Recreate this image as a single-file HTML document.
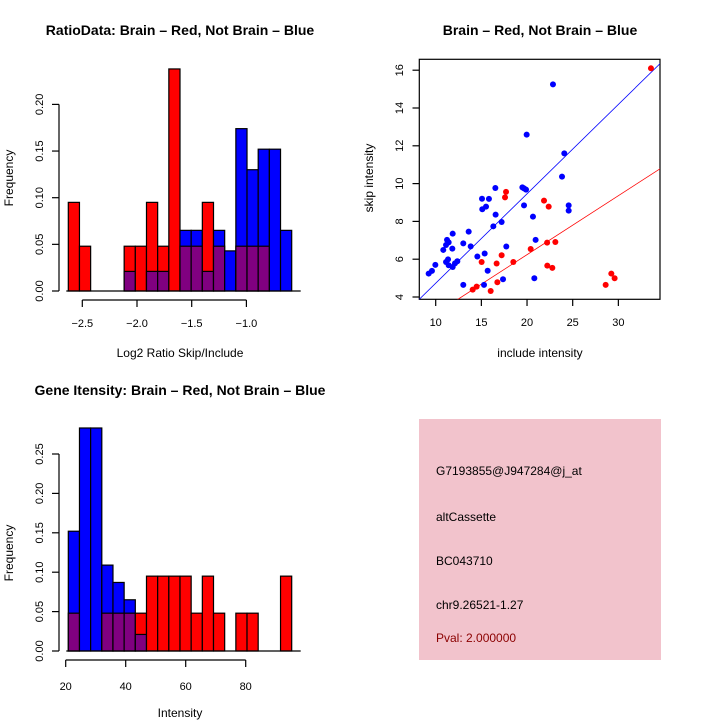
<!DOCTYPE html>
<html><head><meta charset="utf-8"><style>
body{margin:0;background:#fff}
svg{display:block;font-family:"Liberation Sans",sans-serif}
</style></head><body>
<svg id="s" width="720" height="720" xmlns="http://www.w3.org/2000/svg">
<rect x="0" y="0" width="720" height="720" fill="#fff"/>
<text x="180" y="35" font-size="14" font-weight="bold" text-anchor="middle">RatioData: Brain – Red, Not Brain – Blue</text>
<text x="540" y="35" font-size="14" font-weight="bold" text-anchor="middle">Brain – Red, Not Brain – Blue</text>
<text x="180" y="395" font-size="14" font-weight="bold" text-anchor="middle">Gene Itensity: Brain – Red, Not Brain – Blue</text>
<text x="180" y="357" font-size="12" text-anchor="middle">Log2 Ratio Skip/Include</text>
<text x="180" y="717" font-size="12" text-anchor="middle">Intensity</text>
<text transform="translate(13,178) rotate(-90)" font-size="12" text-anchor="middle">Frequency</text>
<text transform="translate(13,553) rotate(-90)" font-size="12" text-anchor="middle">Frequency</text>
<text x="540" y="357" font-size="12" text-anchor="middle">include intensity</text>
<text transform="translate(373,178) rotate(-90)" font-size="12" text-anchor="middle">skip intensity</text>
<g>
<rect x="419" y="419" width="242" height="241" fill="#f2c3cc"/>
<text x="436" y="475" font-size="12">G7193855@J947284@j_at</text>
<text x="436" y="521" font-size="12">altCassette</text>
<text x="436" y="565" font-size="12">BC043710</text>
<text x="436" y="609" font-size="12">chr9.26521-1.27</text>
<text x="436" y="642" font-size="12" fill="#8b0000">Pval: 2.000000</text>
</g>
<g id="h1"></g>
<g id="h2"></g>
<g id="sc"></g>
</svg>
<script>
const ratioRed=[0.095,0.048,0,0,0,0.048,0.048,0.095,0.048,0.238,0.048,0.048,0.095,0.048,0,0.048,0.048,0.048,0,0];
const ratioBlue=[0,0,0,0,0,0.021,0,0.021,0.021,0,0.065,0.065,0.021,0.065,0.043,0.174,0.130,0.152,0.152,0.065];
const ratioYTicks=["0.00","0.05","0.10","0.15","0.20"];
const ratioXTicks=["-2.5","-2.0","-1.5","-1.0"];
const intRed=[0.048,0,0,0.048,0.048,0.048,0.048,0.095,0.095,0.095,0.095,0.048,0.095,0.048,0,0.048,0.048,0,0,0.095];
const intBlue=[0.152,0.283,0.283,0.109,0.087,0.065,0.021,0,0,0,0,0,0,0,0,0,0,0,0,0];
const intYTicks=["0.00","0.05","0.10","0.15","0.20","0.25"];
const intXTicks=["20","40","60","80"];
const blueX=[22.84,19.96,24.08,23.83,16.53,19.49,19.67,19.89,15.07,15.83,15.51,15.1,19.67,24.56,24.56,16.56,20.65,17.22,16.31,11.86,13.61,11.24,11.42,11.13,10.83,11.82,13.02,13.83,17.73,20.94,14.56,15.36,9.96,11.35,11.13,11.42,11.86,12.37,12.11,9.59,9.23,15.69,17.37,20.8,13.02,15.29];
const blueY=[15.25,12.59,11.6,10.37,9.77,9.8,9.75,9.68,9.2,9.19,8.78,8.64,8.85,8.85,8.57,8.36,8.25,7.97,7.74,7.35,7.46,7.02,6.89,6.75,6.49,6.56,6.84,6.68,6.67,7.02,6.14,6.3,5.7,5.99,5.85,5.68,5.59,5.89,5.78,5.38,5.24,5.39,4.94,4.99,4.64,4.64];
const redX=[33.57,17.7,17.59,21.86,22.37,22.2,23.1,20.4,17.22,15.03,16.67,18.5,22.22,22.77,16.75,14.48,14.05,16.02,28.61,29.23,29.59];
const redY=[16.1,9.56,9.27,9.1,8.78,6.88,6.91,6.54,6.21,5.85,5.77,5.85,5.66,5.54,4.78,4.55,4.39,4.32,4.64,5.24,4.99];
const scXTicks=[10,15,20,25,30];
const scYTicks=[4,6,8,10,12,14,16];
const blueSlope=0.473, redSlope=0.312;

const NS="http://www.w3.org/2000/svg";
function mk(p,t,a){const e=document.createElementNS(NS,t);for(const k in a)e.setAttribute(k,a[k]);p.appendChild(e);return e;}

function hist(g,red,blue,x0,x1,y0,perUnit,yticks,xtickVals,xFn,axisY,labY,isInt){
  const n=red.length,w=(x1-x0)/n;
  const yv=v=>y0-v*perUnit;
  for(let i=0;i<n;i++){
    const r=red[i],b=blue[i],mx=Math.max(r,b),mn=Math.min(r,b);
    if(mx<=0)continue;
    const top=mk(g,'rect',{x:x0+i*w,y:yv(mx),width:w,height:mx*perUnit,fill:r>=b?'#ff0000':'#0000ff',stroke:'#000','stroke-width':1.2});
    
    
    if(mn>0){
      const p=mk(g,'rect',{x:x0+i*w,y:yv(mn),width:w,height:mn*perUnit,fill:'#800080',stroke:'#000','stroke-width':1.2});
      
      
    }
  }
  mk(g,'line',{x1:x0-2,x2:x1+9,y1:y0,y2:y0,stroke:'#000','stroke-width':1.2});
  const ymax=parseFloat(yticks[yticks.length-1]);
  mk(g,'line',{x1:59,x2:59,y1:y0,y2:yv(ymax),stroke:'#000','stroke-width':1.2});
  yticks.forEach(t=>{const y=yv(parseFloat(t));
    mk(g,'line',{x1:52,x2:59,y1:y,y2:y,stroke:'#000','stroke-width':1.2});
    const tx=mk(g,'text',{transform:`translate(43,${y}) rotate(-90)`,'font-size':11,'text-anchor':'middle'});tx.textContent=t;
    
    
  });
  const xs=xtickVals.map(v=>xFn(parseFloat(v)));
  mk(g,'line',{x1:xs[0],x2:xs[xs.length-1],y1:axisY,y2:axisY,stroke:'#000','stroke-width':1.2});
  xtickVals.forEach((t,i)=>{const x=xs[i];
    mk(g,'line',{x1:x,x2:x,y1:axisY,y2:axisY+7,stroke:'#000','stroke-width':1.2});
    const tx=mk(g,'text',{x:x,y:labY,'font-size':11,'text-anchor':'middle'});tx.textContent=t.replace('-','\u2212');
    
    
  });
}
hist(document.getElementById('h1'),ratioRed,ratioBlue,68.3,291.7,291,933,ratioYTicks,ratioXTicks,v=>82.3+(v+2.5)*109.4,300,327);
hist(document.getElementById('h2'),intRed,intBlue,68.3,291.7,651,788,intYTicks,intXTicks,v=>65.7+(v-20)*3,660,690);

// scatter
const sc=document.getElementById('sc');
const sx=v=>435.7+(v-10)*9.133, sy=v=>297-(v-4)*18.9;
mk(sc,'rect',{x:419.3,y:59.3,width:240.7,height:240,fill:'none',stroke:'#000','stroke-width':1.2});
const cp=mk(sc,'clipPath',{id:'cp'});mk(cp,'rect',{x:419.3,y:59.3,width:240.7,height:240});
const lg=mk(sc,'g',{'clip-path':'url(#cp)'});
[[blueSlope,'#0000ff'],[redSlope,'#ff0000']].forEach(([s,c])=>{
  const l=mk(lg,'line',{x1:sx(0),y1:sy(0),x2:sx(40),y2:sy(40*s),stroke:c,'stroke-width':0.8});
  
  
});
blueX.forEach((v,i)=>{const c=mk(sc,'circle',{cx:sx(v),cy:sy(blueY[i]),r:3,fill:'#0000ff'});
  
  });
redX.forEach((v,i)=>{const c=mk(sc,'circle',{cx:sx(v),cy:sy(redY[i]),r:3,fill:'#ff0000'});
  
  });
scXTicks.forEach(t=>{const x=sx(t);
  mk(sc,'line',{x1:x,x2:x,y1:299.3,y2:306,stroke:'#000','stroke-width':1.2});
  const tx=mk(sc,'text',{x:x,y:326,'font-size':11,'text-anchor':'middle'});tx.textContent=t;
  
  });
scYTicks.forEach(t=>{const y=sy(t);
  mk(sc,'line',{x1:412.5,x2:419.3,y1:y,y2:y,stroke:'#000','stroke-width':1.2});
  const tx=mk(sc,'text',{transform:`translate(403,${y}) rotate(-90)`,'font-size':11,'text-anchor':'middle'});tx.textContent=t;
  
  });
</script>
</body></html>
